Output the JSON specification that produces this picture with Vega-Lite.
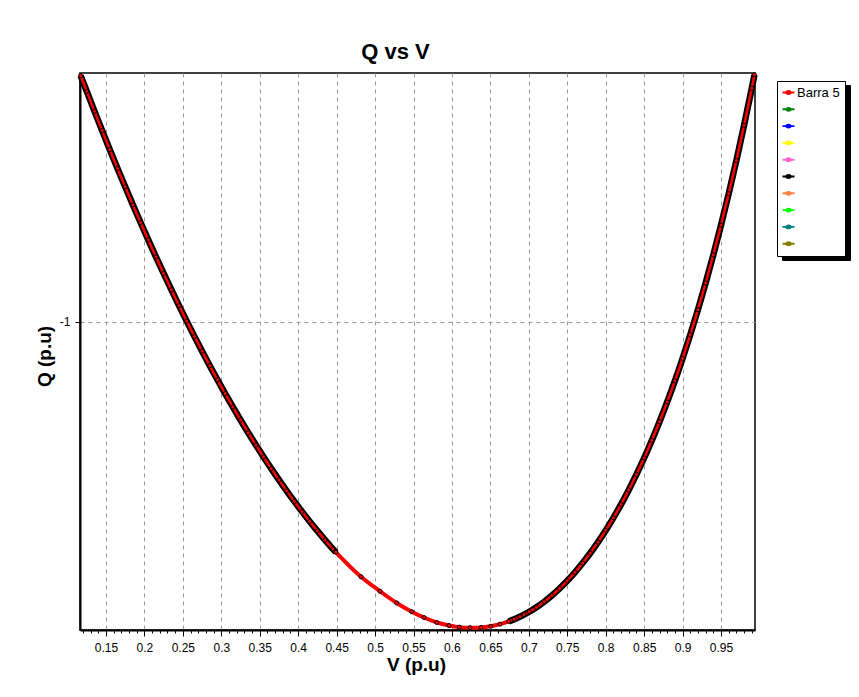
{
  "$schema": "https://vega.github.io/schema/vega-lite/v6.json",
  "width": 675,
  "height": 557,
  "autosize": "none",
  "padding": {"left": 80, "top": 73, "right": 104, "bottom": 67},
  "background": "white",
  "title": {"text": "Q vs V", "font": "Liberation Sans", "fontSize": 22, "fontWeight": "bold", "color": "black", "anchor": "middle", "dx": -22, "offset": -2},
  "data": {"values": [
    {"v": 0.117, "q": -0.6405, "serie": "Barra 5"},
    {"v": 0.125, "q": -0.6633, "serie": "Barra 5"},
    {"v": 0.135, "q": -0.6923, "serie": "Barra 5"},
    {"v": 0.145, "q": -0.7207, "serie": "Barra 5"},
    {"v": 0.155, "q": -0.7486, "serie": "Barra 5"},
    {"v": 0.165, "q": -0.776, "serie": "Barra 5"},
    {"v": 0.175, "q": -0.8028, "serie": "Barra 5"},
    {"v": 0.185, "q": -0.8292, "serie": "Barra 5"},
    {"v": 0.195, "q": -0.855, "serie": "Barra 5"},
    {"v": 0.205, "q": -0.8803, "serie": "Barra 5"},
    {"v": 0.215, "q": -0.9051, "serie": "Barra 5"},
    {"v": 0.225, "q": -0.9293, "serie": "Barra 5"},
    {"v": 0.235, "q": -0.9531, "serie": "Barra 5"},
    {"v": 0.245, "q": -0.9763, "serie": "Barra 5"},
    {"v": 0.255, "q": -0.999, "serie": "Barra 5"},
    {"v": 0.265, "q": -1.0212, "serie": "Barra 5"},
    {"v": 0.275, "q": -1.0428, "serie": "Barra 5"},
    {"v": 0.285, "q": -1.064, "serie": "Barra 5"},
    {"v": 0.295, "q": -1.0846, "serie": "Barra 5"},
    {"v": 0.305, "q": -1.1047, "serie": "Barra 5"},
    {"v": 0.315, "q": -1.1243, "serie": "Barra 5"},
    {"v": 0.325, "q": -1.1433, "serie": "Barra 5"},
    {"v": 0.335, "q": -1.1619, "serie": "Barra 5"},
    {"v": 0.345, "q": -1.1799, "serie": "Barra 5"},
    {"v": 0.355, "q": -1.1974, "serie": "Barra 5"},
    {"v": 0.365, "q": -1.2144, "serie": "Barra 5"},
    {"v": 0.375, "q": -1.2308, "serie": "Barra 5"},
    {"v": 0.385, "q": -1.2468, "serie": "Barra 5"},
    {"v": 0.395, "q": -1.2622, "serie": "Barra 5"},
    {"v": 0.405, "q": -1.2771, "serie": "Barra 5"},
    {"v": 0.415, "q": -1.2915, "serie": "Barra 5"},
    {"v": 0.425, "q": -1.3053, "serie": "Barra 5"},
    {"v": 0.435, "q": -1.3187, "serie": "Barra 5"},
    {"v": 0.445, "q": -1.3315, "serie": "Barra 5"},
    {"v": 0.4492, "q": -1.3365, "serie": "Barra 5"},
    {"v": 0.4817, "q": -1.3722, "serie": "Barra 5"},
    {"v": 0.5064, "q": -1.3934, "serie": "Barra 5"},
    {"v": 0.5281, "q": -1.4105, "serie": "Barra 5"},
    {"v": 0.5477, "q": -1.4232, "serie": "Barra 5"},
    {"v": 0.5637, "q": -1.4318, "serie": "Barra 5"},
    {"v": 0.5802, "q": -1.439, "serie": "Barra 5"},
    {"v": 0.5962, "q": -1.4435, "serie": "Barra 5"},
    {"v": 0.6096, "q": -1.4458, "serie": "Barra 5"},
    {"v": 0.6235, "q": -1.4466, "serie": "Barra 5"},
    {"v": 0.6378, "q": -1.4462, "serie": "Barra 5"},
    {"v": 0.6504, "q": -1.4445, "serie": "Barra 5"},
    {"v": 0.6625, "q": -1.4415, "serie": "Barra 5"},
    {"v": 0.6738, "q": -1.4375, "serie": "Barra 5"},
    {"v": 0.6811, "q": -1.4343, "serie": "Barra 5"},
    {"v": 0.6885, "q": -1.4305, "serie": "Barra 5"},
    {"v": 0.6937, "q": -1.4275, "serie": "Barra 5"},
    {"v": 0.7006, "q": -1.4233, "serie": "Barra 5"},
    {"v": 0.71, "q": -1.4168, "serie": "Barra 5"},
    {"v": 0.72, "q": -1.4087, "serie": "Barra 5"},
    {"v": 0.73, "q": -1.3996, "serie": "Barra 5"},
    {"v": 0.74, "q": -1.3894, "serie": "Barra 5"},
    {"v": 0.75, "q": -1.3781, "serie": "Barra 5"},
    {"v": 0.76, "q": -1.3658, "serie": "Barra 5"},
    {"v": 0.77, "q": -1.3523, "serie": "Barra 5"},
    {"v": 0.78, "q": -1.3376, "serie": "Barra 5"},
    {"v": 0.79, "q": -1.3217, "serie": "Barra 5"},
    {"v": 0.8, "q": -1.3046, "serie": "Barra 5"},
    {"v": 0.81, "q": -1.2862, "serie": "Barra 5"},
    {"v": 0.82, "q": -1.2665, "serie": "Barra 5"},
    {"v": 0.83, "q": -1.2454, "serie": "Barra 5"},
    {"v": 0.84, "q": -1.2228, "serie": "Barra 5"},
    {"v": 0.85, "q": -1.1988, "serie": "Barra 5"},
    {"v": 0.86, "q": -1.1732, "serie": "Barra 5"},
    {"v": 0.87, "q": -1.1459, "serie": "Barra 5"},
    {"v": 0.88, "q": -1.1169, "serie": "Barra 5"},
    {"v": 0.89, "q": -1.0862, "serie": "Barra 5"},
    {"v": 0.9, "q": -1.0535, "serie": "Barra 5"},
    {"v": 0.91, "q": -1.0189, "serie": "Barra 5"},
    {"v": 0.92, "q": -0.9822, "serie": "Barra 5"},
    {"v": 0.93, "q": -0.9433, "serie": "Barra 5"},
    {"v": 0.94, "q": -0.9022, "serie": "Barra 5"},
    {"v": 0.95, "q": -0.8588, "serie": "Barra 5"},
    {"v": 0.96, "q": -0.8128, "serie": "Barra 5"},
    {"v": 0.97, "q": -0.7643, "serie": "Barra 5"},
    {"v": 0.98, "q": -0.713, "serie": "Barra 5"},
    {"v": 0.99, "q": -0.6589, "serie": "Barra 5"},
    {"v": 0.9935, "q": -0.6393, "serie": "Barra 5"}
  ]},
  "encoding": {
    "x": {
      "field": "v", "type": "quantitative",
      "scale": {"domain": [0.1162, 0.9942], "nice": false, "zero": false},
      "axis": {
        "values": [0.12,0.13,0.14,0.15,0.16,0.17,0.18,0.19,0.2,0.21,0.22,0.23,0.24,0.25,0.26,0.27,0.28,0.29,0.3,0.31,0.32,0.33,0.34,0.35,0.36,0.37,0.38,0.39,0.4,0.41,0.42,0.43,0.44,0.45,0.46,0.47,0.48,0.49,0.5,0.51,0.52,0.53,0.54,0.55,0.56,0.57,0.58,0.59,0.6,0.61,0.62,0.63,0.64,0.65,0.66,0.67,0.68,0.69,0.7,0.71,0.72,0.73,0.74,0.75,0.76,0.77,0.78,0.79,0.8,0.81,0.82,0.83,0.84,0.85,0.86,0.87,0.88,0.89,0.9,0.91,0.92,0.93,0.94,0.95,0.96,0.97,0.98,0.99],
        "title": "V (p.u)",
        "grid": true,
        "gridColor": "#9a9a9a",
        "gridDash": [4, 4],
        "gridWidth": 1,
        "gridOpacity": {"condition": {"test": "abs(datum.value*20 - round(datum.value*20)) < 0.001", "value": 1}, "value": 0},
        "tickSize": {"condition": {"test": "abs(datum.value*20 - round(datum.value*20)) < 0.001", "value": 6}, "value": 3},
        "tickColor": "black",
        "tickWidth": 1,
        "domainColor": "black",
        "domainWidth": 2,
        "labelExpr": "abs(datum.value*20 - round(datum.value*20)) < 0.001 ? format(datum.value, '.2~f') : ''",
        "labelFont": "Liberation Sans",
        "labelFontSize": 12,
        "labelColor": "black",
        "labelPadding": 6,
        "labelOverlap": false,
        "labelFlush": false,
        "titleFont": "Liberation Sans",
        "titleFontSize": 19,
        "titleFontWeight": "bold",
        "titleColor": "black",
        "titleX": 336,
        "titleY": 40,
        "titleAlign": "center",
        "titleBaseline": "alphabetic"
      }
    },
    "y": {
      "field": "q", "type": "quantitative",
      "scale": {"domain": [-1.45, -0.6366], "nice": false, "zero": false},
      "axis": {
        "values": [-1],
        "title": "Q (p.u)",
        "grid": true,
        "gridColor": "#9a9a9a",
        "gridDash": [4, 4],
        "gridWidth": 1,
        "tickSize": 5,
        "tickColor": "black",
        "domainColor": "black",
        "domainWidth": 2,
        "labelExpr": "replace(format(datum.value, '~g'), '\u2212', '-')",
        "labelFont": "Liberation Sans",
        "labelFontSize": 12,
        "labelColor": "black",
        "labelPadding": 5,
        "titleFont": "Liberation Sans",
        "titleFontSize": 19,
        "titleFontWeight": "bold",
        "titleColor": "black",
        "titleX": -36,
        "titleY": 283,
        "titleAngle": 270,
        "titleAlign": "center",
        "titleBaseline": "middle"
      }
    }
  },
  "layer": [
    {
      "transform": [{"filter": "datum.v <= 0.4493"}],
      "mark": {"type": "line", "color": "black", "strokeWidth": 6.5, "interpolate": "monotone"}
    },
    {
      "transform": [{"filter": "datum.v >= 0.6737"}],
      "mark": {"type": "line", "color": "black", "strokeWidth": 6.5, "interpolate": "monotone"}
    },
    {
      "mark": {"type": "line", "color": "#ff0000", "strokeWidth": 2.5, "interpolate": "monotone"}
    },
    {
      "transform": [{"filter": "datum.v >= 0.4491 && datum.v <= 0.6739"}],
      "mark": {"type": "line", "color": "#ff0000", "strokeWidth": 4, "interpolate": "monotone"}
    },
    {
      "mark": {"type": "point", "filled": true, "stroke": "black", "strokeWidth": 1, "size": 16, "opacity": 1},
      "encoding": {
        "color": {
          "field": "serie", "type": "nominal",
          "scale": {
            "domain": ["Barra 5", "s2", "s3", "s4", "s5", "s6", "s7", "s8", "s9", "s10"],
            "range": ["#ff0000", "#008000", "#0000ff", "#ffff00", "#ff66cc", "#000000", "#ff8040", "#00ff00", "#008080", "#808000"]
          },
          "legend": {
            "orient": "none",
            "legendX": 697,
            "legendY": 8,
            "title": null,
            "direction": "vertical",
            "fillColor": "white",
            "strokeColor": "black",
            "padding": 5,
            "rowPadding": 2.8,
            "symbolType": "M-1,-0.16H1V0.16H-1Z M-0.55,0A0.55,0.4 0 1,1 0.55,0A0.55,0.4 0 1,1 -0.55,0Z",
            "symbolSize": 144,
            "symbolStrokeWidth": 0,
            "labelFont": "Liberation Sans",
            "labelFontSize": 13,
            "labelColor": "black",
            "labelOffset": 2,
            "labelExpr": "datum.value == 'Barra 5' ? datum.label : ''",
            "zindex": 2
          }
        }
      }
    },
    {
      "transform": [{"filter": "false"}],
      "mark": {"type": "point", "filled": true, "stroke": "black", "strokeWidth": 1, "size": 16, "opacity": 1},
      "encoding": {
        "color": {
          "field": "serie", "type": "nominal",
          "scale": {
            "domain": ["s2", "Barra 5", "s3", "s4", "s5", "s6", "s7", "s8", "s9", "s10"],
            "range": ["#000000", "#000000", "#000000", "#000000", "#000000", "#000000", "#000000", "#000000", "#000000", "#000000"]
          },
          "legend": {
            "orient": "none",
            "legendX": 702,
            "legendY": 12,
            "title": null,
            "direction": "vertical",
            "fillColor": "black",
            "strokeColor": "black",
            "padding": 5,
            "rowPadding": 2.8,
            "symbolType": "M-1,-0.16H1V0.16H-1Z M-0.55,0A0.55,0.4 0 1,1 0.55,0A0.55,0.4 0 1,1 -0.55,0Z",
            "symbolSize": 144,
            "symbolStrokeWidth": 0,
            "labelFont": "Liberation Sans",
            "labelFontSize": 13,
            "labelColor": "black",
            "labelOffset": 2,
            "labelExpr": "datum.value == 'Barra 5' ? datum.label : ''",
            "zindex": 1
          }
        }
      }
    }
  ],
  "resolve": {"scale": {"color": "independent"}},
  "config": {
    "view": {"stroke": "black", "strokeWidth": 1.5},
    "font": "Liberation Sans"
  }
}
